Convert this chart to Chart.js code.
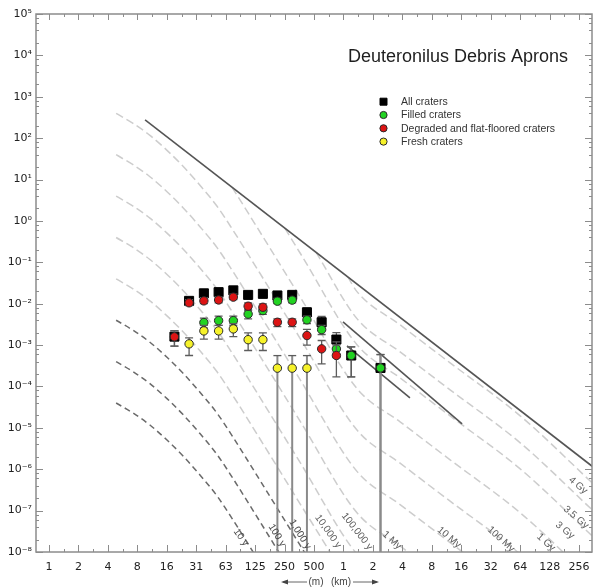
<!DOCTYPE html>
<html>
<head>
<meta charset="utf-8">
<title>Deuteronilus Debris Aprons</title>
<script src="https://cdn.jsdelivr.net/npm/chart.js@4.4.1/dist/chart.umd.min.js"></script>
<style>
    html, body { margin: 0; padding: 0; background: #fff; }
    #wrap { width: 593px; height: 588px; }
</style>
</head>
<body>
<div id="wrap"><canvas id="sfdChart" width="593" height="588"></canvas></div>
<script>
// Axis ticks (diameter in km, density in craters per km^2)
const xTickValues = [1/1024, 1/512, 1/256, 1/128, 1/64, 1/32, 1/16, 1/8, 1/4, 1/2, 1, 2, 4, 8, 16, 32, 64, 128, 256];
const xTickLabels = ['1', '2', '4', '8', '16', '31', '63', '125', '250', '500', '1', '2', '4', '8', '16', '32', '64', '128', '256'];
const yTickValues = [1e-8, 1e-7, 1e-6, 1e-5, 1e-4, 1e-3, 1e-2, 1e-1, 1e0, 1e1, 1e2, 1e3, 1e4, 1e5];
const yTickLabels = ['10⁻⁸', '10⁻⁷', '10⁻⁶', '10⁻⁵', '10⁻⁴', '10⁻³', '10⁻²', '10⁻¹', '10⁰', '10¹', '10²', '10³', '10⁴', '10⁵'];

// Crater counts, sqrt(2) diameter bins
const binDiameters = [0.0187, 0.0264, 0.0374, 0.0529, 0.0748, 0.106, 0.150, 0.211, 0.299, 0.423, 0.598, 0.846, 1.20, 2.39];

const allCraters      = [1.6e-3, 1.17e-2, 1.78e-2, 1.9e-2, 2.1e-2, 1.63e-2, 1.73e-2, 1.58e-2, 1.63e-2, 6.2e-3, 3.56e-3, 1.36e-3, 5.6e-4, 2.8e-4];
const allLow          = [9.4e-4, 1.0e-2, 1.6e-2, 1.7e-2, 1.9e-2, 1.45e-2, 1.55e-2, 1.4e-2, 1.45e-2, 4.8e-3, 2.5e-3, 8.5e-4, 1.7e-4, 0];
const allHigh         = [2.24e-3, 1.35e-2, 2.0e-2, 2.1e-2, 2.3e-2, 1.8e-2, 1.9e-2, 1.75e-2, 1.8e-2, 7.8e-3, 4.9e-3, 2.0e-3, 9.0e-4, 5.9e-4];

const filledCraters   = [null, null, 3.5e-3, 3.9e-3, 3.9e-3, 5.6e-3, 6.8e-3, 1.15e-2, 1.22e-2, 4.07e-3, 2.36e-3, 8.1e-4, 5.6e-4, 2.8e-4];
const filledLow       = [null, null, 2.6e-3, 3.0e-3, 3.0e-3, 4.3e-3, 5.5e-3, 1.0e-2, 1.05e-2, 3.3e-3, 1.8e-3, 5.0e-4, 1.7e-4, 0];
const filledHigh      = [null, null, 4.5e-3, 5.0e-3, 5.0e-3, 6.8e-3, 8.0e-3, 1.35e-2, 1.4e-2, 5.0e-3, 3.0e-3, 1.2e-3, 9.0e-4, 5.9e-4];

const degradedCraters = [1.58e-3, 1.05e-2, 1.17e-2, 1.23e-2, 1.44e-2, 8.7e-3, 8.2e-3, 3.56e-3, 3.56e-3, 1.7e-3, 8.1e-4, 5.6e-4, null, null];
const degradedLow     = [9.4e-4, 9.0e-3, 1.0e-2, 1.05e-2, 1.25e-2, 7.2e-3, 6.8e-3, 2.8e-3, 2.8e-3, 1.0e-3, 3.5e-4, 1.7e-4, null, null];
const degradedHigh    = [2.24e-3, 1.25e-2, 1.4e-2, 1.45e-2, 1.7e-2, 1.05e-2, 9.9e-3, 4.3e-3, 4.3e-3, 2.4e-3, 1.29e-3, 1.0e-3, null, null];

const freshCraters    = [null, 1.07e-3, 2.2e-3, 2.2e-3, 2.46e-3, 1.35e-3, 1.35e-3, 2.77e-4, 2.77e-4, 2.77e-4, null, null, null, null];
const freshLow        = [null, 5.6e-4, 1.4e-3, 1.4e-3, 1.6e-3, 7.4e-4, 7.4e-4, 0, 0, 0, null, null, null, null];
const freshHigh       = [null, 1.5e-3, 3.0e-3, 3.0e-3, 3.3e-3, 1.97e-3, 1.97e-3, 5.57e-4, 5.57e-4, 5.57e-4, null, null, null, null];

// Isochrons (Hartmann), young ones share the diameter list
const isoDiam  = [0.00474, 0.00706, 0.0105, 0.0157, 0.0229, 0.0341, 0.0510, 0.0743, 0.106, 0.360, 1.38, 3.79, 12.3, 64, 357];
const iso10y   = [3.98e-5, 2.28e-5, 1.17e-5, 5.08e-6, 2.09e-6, 7.26e-7, 2.26e-7, 5.94e-8, 1.56e-8, 1.46e-10];
const iso100y  = [3.98e-4, 2.28e-4, 1.17e-4, 5.08e-5, 2.09e-5, 7.26e-6, 2.26e-6, 5.94e-7, 1.56e-7, 1.46e-9];
const iso1ky   = [3.98e-3, 2.28e-3, 1.17e-3, 5.08e-4, 2.09e-4, 7.26e-5, 2.26e-5, 5.94e-6, 1.56e-6, 1.46e-8, 8.76e-11];
const iso10ky  = [3.98e-2, 2.28e-2, 1.17e-2, 5.08e-3, 2.09e-3, 7.26e-4, 2.26e-4, 5.94e-5, 1.56e-5, 1.46e-7, 8.76e-10];
const iso100ky = [0.398, 0.228, 0.117, 5.08e-2, 2.09e-2, 7.26e-3, 2.26e-3, 5.94e-4, 1.56e-4, 1.46e-6, 8.76e-9, 1.40e-9];
const iso1My   = [3.98, 2.28, 1.17, 0.508, 0.209, 7.26e-2, 2.26e-2, 5.94e-3, 1.56e-3, 1.46e-5, 8.76e-8, 1.40e-8, 1.69e-9];
const iso10My  = [39.8, 22.8, 11.7, 5.08, 2.09, 0.726, 0.226, 5.94e-2, 1.56e-2, 1.46e-4, 8.76e-7, 1.40e-7, 1.69e-8, 8.9e-10];
const iso100My = [398, 228, 117, 50.8, 20.9, 7.26, 2.26, 0.594, 0.156, 1.46e-3, 8.76e-6, 1.40e-6, 1.69e-7, 8.9e-9, 2.0e-10];

// Old isochrons start where they meet the saturation line
const iso1GyDiam  = [0.0726, 0.106, 0.360, 1.38, 3.79, 12.3, 64, 357];
const iso1Gy      = [6.5, 1.56, 1.46e-2, 8.77e-5, 1.40e-5, 1.69e-6, 8.87e-8, 2.02e-9];
const iso3GyDiam  = [0.252, 0.360, 1.38, 3.79, 12.3, 64, 357];
const iso3Gy      = [0.663, 0.168, 1.01e-3, 1.61e-4, 1.94e-5, 1.02e-6, 2.32e-8];
const iso35GyDiam = [0.525, 1.38, 3.79, 12.3, 64, 357];
const iso35Gy     = [0.173, 4.30e-3, 6.85e-4, 8.28e-5, 4.35e-6, 9.89e-8];
const iso4GyDiam  = [1.11, 1.38, 3.79, 12.3, 64, 357];
const iso4Gy      = [4.4e-2, 1.93e-2, 3.08e-3, 3.72e-4, 1.95e-5, 4.44e-7];

// Solid reference lines
const saturationDiam = [0.00937, 355];
const saturationN    = [275, 1.14e-6];
const fitADiam = [0.988, 16.3];
const fitAN    = [3.64e-3, 1.25e-5];
const fitBDiam = [1.086, 4.78];
const fitBN    = [9.57e-4, 5.31e-5];

const isoLabels = ['10 y', '100 y', '1,000 y', '10,000 y', '100,000 y', '1 My', '10 My', '100 My', '1 Gy', '3 Gy', '3.5 Gy', '4 Gy'];

// label anchors in data space, angle in degrees (layout only)
const isoLabelPlacement = [
    { d: 0.0897, n: 2.26e-8, a: 55, c: '#4a4a4a' },
    { d: 0.209, n: 2.53e-8, a: 58, c: '#4a4a4a' },
    { d: 0.359, n: 2.68e-8, a: 58, c: '#4a4a4a' },
    { d: 0.695, n: 3.16e-8, a: 55, c: '#5a5a5a' },
    { d: 1.374, n: 3.16e-8, a: 52, c: '#5a5a5a' },
    { d: 3.13, n: 1.92e-8, a: 42, c: '#5a5a5a' },
    { d: 12.0, n: 2.26e-8, a: 40, c: '#5a5a5a' },
    { d: 40.7, n: 2.03e-8, a: 42, c: '#5a5a5a' },
    { d: 117.5, n: 1.71e-8, a: 42, c: '#5a5a5a' },
    { d: 183.7, n: 3.34e-8, a: 40, c: '#5a5a5a' },
    { d: 238, n: 6.89e-8, a: 40, c: '#5a5a5a' },
    { d: 249.5, n: 4.08e-7, a: 40, c: '#5a5a5a' }
];

const pairs = (ds, ns) => ns.map((n, i) => ({ x: ds[i], y: n })).filter(p => p.y !== null);

const LIGHT = '#cdcdcd';
const DARK = '#6a6a6a';

function isoLine(label, ds, ns, color, dash) {
    return {
        label: label,
        data: pairs(ds, ns),
        showLine: true,
        borderColor: color,
        borderWidth: 1.5,
        borderDash: dash,
        pointRadius: 0,
        cubicInterpolationMode: 'monotone',
        order: 20
    };
}

function solidLine(label, ds, ns) {
    return {
        label: label,
        data: pairs(ds, ns),
        showLine: true,
        borderColor: '#555',
        borderWidth: 1.6,
        pointRadius: 0,
        order: 15
    };
}

function craterSeries(label, ns, lo, hi, style, fill, order) {
    return {
        label: label,
        data: pairs(binDiameters, ns),
        errLow: lo,
        errHigh: hi,
        showLine: false,
        pointStyle: style,
        pointRadius: style === 'rect' ? 6.4 : 4.2,
        pointBackgroundColor: fill,
        pointBorderColor: style === 'rect' ? '#000' : '#2a2a2a',
        pointBorderWidth: 1,
        order: order
    };
}

const datasets = [
    craterSeries('Fresh craters', freshCraters, freshLow, freshHigh, 'circle', '#f6f22a', 1),
    craterSeries('Degraded and flat-floored craters', degradedCraters, degradedLow, degradedHigh, 'circle', '#dc1414', 2),
    craterSeries('Filled craters', filledCraters, filledLow, filledHigh, 'circle', '#22d322', 3),
    craterSeries('All craters', allCraters, allLow, allHigh, 'rect', '#000', 4),
    solidLine('Saturation', saturationDiam, saturationN),
    solidLine('Fit A', fitADiam, fitAN),
    solidLine('Fit B', fitBDiam, fitBN),
    isoLine('10 y', isoDiam, iso10y, DARK, [6, 4]),
    isoLine('100 y', isoDiam, iso100y, DARK, [6, 4]),
    isoLine('1,000 y', isoDiam, iso1ky, DARK, [6, 4]),
    isoLine('10,000 y', isoDiam, iso10ky, LIGHT, [8, 4]),
    isoLine('100,000 y', isoDiam, iso100ky, LIGHT, [8, 4]),
    isoLine('1 My', isoDiam, iso1My, LIGHT, [8, 4]),
    isoLine('10 My', isoDiam, iso10My, LIGHT, [8, 4]),
    isoLine('100 My', isoDiam, iso100My, LIGHT, [8, 4]),
    isoLine('1 Gy', iso1GyDiam, iso1Gy, LIGHT, [8, 4]),
    isoLine('3 Gy', iso3GyDiam, iso3Gy, LIGHT, [8, 4]),
    isoLine('3.5 Gy', iso35GyDiam, iso35Gy, LIGHT, [8, 4]),
    isoLine('4 Gy', iso4GyDiam, iso4Gy, LIGHT, [8, 4])
];

const AXIS = '#8c8c8c';

function seg(ctx, x1, y1, x2, y2) {
    ctx.moveTo(x1, y1);
    ctx.lineTo(x2, y2);
}

// Frame, inward ticks, title, legend and isochron labels
const decor = {
    id: 'decor',
    beforeDraw(chart) {
        const { ctx, width, height } = chart;
        ctx.save();
        ctx.fillStyle = '#fff';
        ctx.fillRect(0, 0, width, height);
        ctx.restore();
    },
    beforeDatasetDraw(chart, args) {
        const ds = chart.data.datasets[args.index];
        if (!ds.errHigh) return;
        const { ctx, chartArea: a } = chart;
        const xs = chart.scales.x, ys = chart.scales.y;
        ctx.save();
        ctx.beginPath();
        ctx.rect(a.left, a.top, a.right - a.left, a.bottom - a.top);
        ctx.clip();
        binDiameters.forEach((d, i) => {
            const hi = ds.errHigh[i], lo = ds.errLow[i];
            if (hi === null || hi === undefined) return;
            const x = xs.getPixelForValue(d);
            const yHi = ys.getPixelForValue(hi);
            const toFloor = !(lo > 0);
            const yLo = toFloor ? a.bottom : ys.getPixelForValue(lo);
            ctx.beginPath();
            ctx.strokeStyle = toFloor ? '#8a8a8a' : '#5c5c5c';
            ctx.lineWidth = toFloor ? 2 : 1.3;
            seg(ctx, x, yHi, x, yLo);
            ctx.stroke();
            ctx.beginPath();
            ctx.strokeStyle = '#5c5c5c';
            ctx.lineWidth = 1.3;
            seg(ctx, x - 4, yHi, x + 4, yHi);
            if (!toFloor) seg(ctx, x - 4, yLo, x + 4, yLo);
            ctx.stroke();
        });
        ctx.restore();
    },
    afterDatasetsDraw(chart) {
        const { ctx, chartArea: a } = chart;
        const xs = chart.scales.x, ys = chart.scales.y;
        ctx.save();

        // isochron labels
        ctx.font = '10px "Liberation Sans", Arial, sans-serif';
        ctx.textAlign = 'center';
        ctx.textBaseline = 'middle';
        isoLabels.forEach((t, i) => {
            const p = isoLabelPlacement[i];
            ctx.save();
            ctx.translate(xs.getPixelForValue(p.d), ys.getPixelForValue(p.n));
            ctx.rotate(p.a * Math.PI / 180);
            ctx.fillStyle = p.c;
            ctx.fillText(t, 0, 0);
            ctx.restore();
        });

        // frame and ticks
        ctx.strokeStyle = AXIS;
        ctx.lineWidth = 1.5;
        ctx.strokeRect(a.left, a.top, a.right - a.left, a.bottom - a.top);
        ctx.lineWidth = 1;
        ctx.beginPath();
        xTickValues.forEach(v => {
            const x = Math.round(xs.getPixelForValue(v)) + 0.5;
            seg(ctx, x, a.bottom, x, a.bottom - 7);
            seg(ctx, x, a.top, x, a.top + 6);
            const xm = Math.round(xs.getPixelForValue(v * Math.SQRT2)) + 0.5;
            if (xm < a.right - 1) {
                seg(ctx, xm, a.bottom, xm, a.bottom - 3);
                seg(ctx, xm, a.top, xm, a.top + 3);
            }
        });
        yTickValues.forEach(v => {
            const y = Math.round(ys.getPixelForValue(v)) + 0.5;
            seg(ctx, a.left, y, a.left + 7, y);
            seg(ctx, a.right, y, a.right - 7, y);
            if (v < 1e5) {
                [2, 4, 6, 8].forEach(m => {
                    const ym = Math.round(ys.getPixelForValue(v * m)) + 0.5;
                    seg(ctx, a.left, ym, a.left + 3, ym);
                    seg(ctx, a.right, ym, a.right - 3, ym);
                });
            }
        });
        ctx.stroke();

        // title
        ctx.fillStyle = '#1e1e1e';
        ctx.font = '18px "Liberation Sans", Arial, sans-serif';
        ctx.textAlign = 'left';
        ctx.textBaseline = 'alphabetic';
        ctx.fillText('Deuteronilus Debris Aprons', 348, 61.5);

        // legend
        const legendItems = [3, 2, 1, 0].map(i => chart.data.datasets[i]);
        ctx.font = '10.5px "Liberation Sans", Arial, sans-serif';
        ctx.textBaseline = 'middle';
        legendItems.forEach((ds, k) => {
            const y = 101.7 + k * 13.3;
            const x = 383.5;
            ctx.fillStyle = ds.pointBackgroundColor;
            ctx.strokeStyle = ds.pointBorderColor;
            ctx.lineWidth = 1;
            ctx.beginPath();
            if (ds.pointStyle === 'rect') {
                ctx.rect(x - 3.5, y - 3.5, 7, 7);
            } else {
                ctx.arc(x, y, 3.6, 0, Math.PI * 2);
            }
            ctx.fill();
            ctx.stroke();
            ctx.fillStyle = '#333';
            ctx.fillText(ds.label, 401, y + 0.5);
        });

        // unit arrows below the axis
        const yArr = 582;
        ctx.strokeStyle = '#666';
        ctx.fillStyle = '#444';
        ctx.lineWidth = 1;
        ctx.beginPath();
        seg(ctx, 283, yArr, 307, yArr);
        seg(ctx, 353, yArr, 377, yArr);
        ctx.stroke();
        ctx.beginPath();
        ctx.moveTo(281, yArr); ctx.lineTo(288, yArr - 2.5); ctx.lineTo(288, yArr + 2.5); ctx.closePath();
        ctx.moveTo(379, yArr); ctx.lineTo(372, yArr - 2.5); ctx.lineTo(372, yArr + 2.5); ctx.closePath();
        ctx.fill();
        ctx.font = '10px "Liberation Sans", Arial, sans-serif';
        ctx.textAlign = 'center';
        ctx.fillText('(m)', 316, yArr);
        ctx.fillText('(km)', 341, yArr);

        ctx.restore();
    }
};

const tickFont = { family: '"DejaVu Sans", sans-serif', size: 11 };

new Chart(document.getElementById('sfdChart'), {
    type: 'scatter',
    data: { datasets: datasets },
    options: {
        responsive: false,
        animation: false,
        layout: { autoPadding: false, padding: { top: 14, right: 1, left: 0, bottom: 0 } },
        plugins: {
            legend: { display: false },
            tooltip: { enabled: false }
        },
        scales: {
            x: {
                type: 'logarithmic',
                bounds: 'data',
                min: 0.000719,
                max: 347,
                afterBuildTicks: s => { s.ticks = xTickValues.map(v => ({ value: v })); },
                afterFit: s => { s.height = 36; s.paddingLeft = 0; s.paddingRight = 0; },
                grid: { display: false, drawTicks: false },
                border: { display: false },
                ticks: {
                    autoSkip: false,
                    maxRotation: 0,
                    padding: 9,
                    color: '#222',
                    font: tickFont,
                    callback: (v, i) => xTickLabels[i]
                }
            },
            y: {
                type: 'logarithmic',
                bounds: 'data',
                min: 1e-8,
                max: 1e5,
                afterBuildTicks: s => { s.ticks = yTickValues.map(v => ({ value: v })); },
                afterFit: s => { s.width = 36; s.paddingTop = 0; s.paddingBottom = 0; },
                grid: { display: false, drawTicks: false },
                border: { display: false },
                ticks: {
                    autoSkip: false,
                    padding: 4,
                    color: '#222',
                    font: tickFont,
                    callback: (v, i) => yTickLabels[i]
                }
            }
        }
    },
    plugins: [decor]
});
</script>
</body>
</html>
